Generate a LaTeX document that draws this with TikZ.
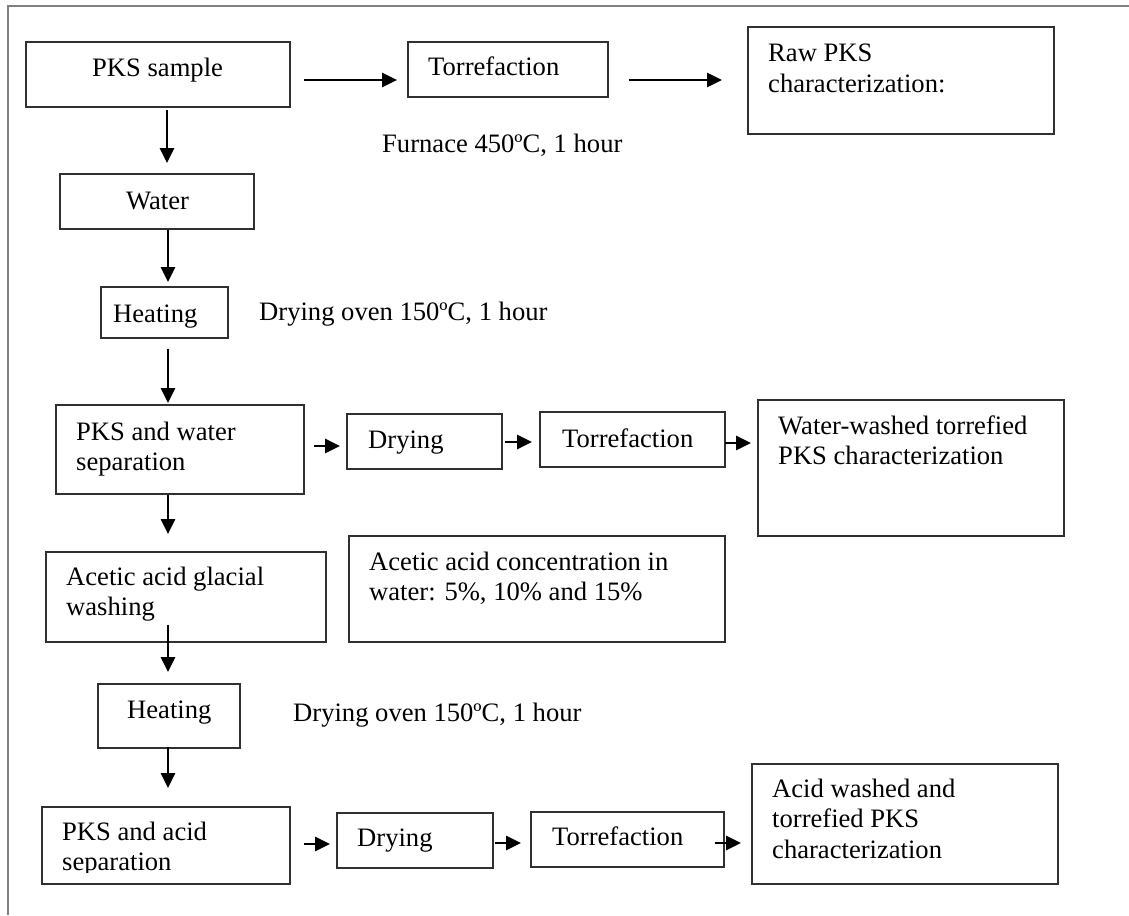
\documentclass[tikz,border=0pt]{standalone}
\usepackage{fontspec}
\setmainfont{Liberation Serif}
\usetikzlibrary{arrows.meta,calc}
\tikzset{
  box/.style={draw=boxcol, line width=1.6pt, inner sep=0pt, anchor=north west},
  lbl/.style={inner sep=0pt, anchor=base west, text=black, font=\fontsize{26.6}{30.6}\selectfont},
  arr/.style={line width=2.8pt, -{Triangle[length=15pt,width=14pt]}},
  frame/.style={draw=framecol, line width=2pt},
}
\definecolor{boxcol}{HTML}{303030}
\definecolor{framecol}{HTML}{808080}
\newcommand{\mybox}[5]{\node[box, minimum width={#4-#2}, minimum height={#5-#3}] (#1) at (#2,#3) {};}
\newcommand{\twol}[2]{\begin{tabular}[t]{@{}l@{}}#1\\#2\end{tabular}}
\begin{document}
\begin{tikzpicture}[x=1pt,y=-1pt]
\useasboundingbox (0,0) rectangle (1129,915);
\draw[frame] (8,915) -- (8,6) -- (1129,6);
% boxes
\mybox{pks}{25}{41}{289}{106}
\mybox{torrA}{407}{41}{607}{96}
\mybox{raw}{747}{26}{1053}{133}
\mybox{water}{59}{173}{253}{228}
\mybox{heatA}{100}{286}{227}{337}
\mybox{wsep}{55}{404}{303}{493}
\mybox{dryA}{346}{413}{501}{468}
\mybox{torrB}{539}{411}{724}{466}
\mybox{wchar}{757}{399}{1063}{535}
\mybox{acet}{45}{551}{325}{641}
\mybox{conc}{348}{535}{724}{641}
\mybox{heatB}{97}{683}{239}{747}
\mybox{asep}{41}{806}{289}{883}
\mybox{dryB}{336}{812}{492}{867}
\mybox{torrC}{530}{811}{723}{866}
\mybox{achar}{751}{763}{1057}{883}
% texts
\node[lbl] (tpks) at (92,77) {PKS sample};
\node[lbl] (ttorrA) at (428,76) {Torrefaction};
\node[lbl] (traw) at (768,62) {\twol{Raw PKS}{characterization:}};
\node[lbl] (tfurn) at (382,153) {Furnace 450ºC, 1 hour};
\node[lbl] (twater) at (126,209) {Water};
\node[lbl] (theatA) at (113,322) {Heating};
\node[lbl] (tovenA) at (259,320) {Drying oven 150ºC, 1 hour};
\node[lbl] (twsep) at (76,440) {\twol{PKS and water}{separation}};
\node[lbl] (tdryA) at (368,448) {Drying};
\node[lbl] (ttorrB) at (562,447) {Torrefaction};
\node[lbl] (twchar) at (778,434) {\twol{Water-washed torrefied}{PKS characterization}};
\node[lbl] (tacet) at (66,585) {\twol{Acetic acid glacial}{washing}};
\node[lbl] (tconc) at (369,570) {\twol{Acetic acid concentration in}{water: 5\%, 10\% and 15\%}};
\node[lbl] (theatB) at (127,718) {Heating};
\node[lbl] (tovenB) at (293,721) {Drying oven 150ºC, 1 hour};
\begin{scope}
\clip (41,806) rectangle (289,872);
\node[lbl] (tasep) at (62,840) {\twol{PKS and acid}{separation}};
\end{scope}
\node[lbl] (tdryB) at (357,846) {Drying};
\node[lbl] (ttorrC) at (552,845) {Torrefaction};
\node[lbl] (tachar) at (772,797) {\begin{tabular}[t]{@{}l@{}}Acid washed and\\torrefied PKS\\characterization\end{tabular}};
% guide coordinates
\coordinate (vx) at (168,0);
\coordinate (ra) at (0,80);
\coordinate (rb) at (0,446);
\coordinate (rc) at (0,442);
\coordinate (rd) at (0,443);
\coordinate (re) at (0,844);
\coordinate (rf) at (0,843);
% connectors
\draw[arr] ($(pks.east|-ra)+(13,0)$) -- ($(torrA.west|-ra)+(-10,0)$);
\draw[arr] ($(torrA.east|-ra)+(20,0)$) -- ($(raw.west|-ra)+(-25,0)$);
\draw[arr] ($(pks.south-|vx)+(-1,2)$) -- ($(water.north-|vx)+(-1,-10)$);
\draw[arr] (water.south-|vx) -- ($(heatA.north-|vx)+(0,-4)$);
\draw[arr] ($(heatA.south-|vx)+(0,10)$) -- ($(wsep.north-|vx)+(0,-1)$);
\draw[arr] ($(wsep.east|-rb)+(9,0)$) -- ($(dryA.west|-rb)+(-6,0)$);
\draw[arr] ($(dryA.east|-rc)+(2,0)$) -- ($(torrB.west|-rc)+(-7,0)$);
\draw[arr] ($(torrB.east|-rd)+(-1,0)$) -- ($(wchar.west|-rd)+(-6,0)$);
\draw[arr] (wsep.south-|vx) -- ($(acet.north-|vx)+(0,-17)$);
\draw[arr] ($(acet.south-|vx)+(0,-18)$) -- ($(heatB.north-|vx)+(0,-11)$);
\draw[arr] ($(heatB.south-|vx)+(0,-2)$) -- ($(asep.north-|vx)+(0,-18)$);
\draw[arr] ($(asep.east|-re)+(13,0)$) -- ($(dryB.west|-re)+(-6,0)$);
\draw[arr] ($(dryB.east|-rf)+(1,0)$) -- ($(torrC.west|-rf)+(-9,0)$);
\draw[arr] ($(torrC.east|-rf)+(-10,0)$) -- ($(achar.west|-rf)+(-10,0)$);
\end{tikzpicture}
\end{document}
